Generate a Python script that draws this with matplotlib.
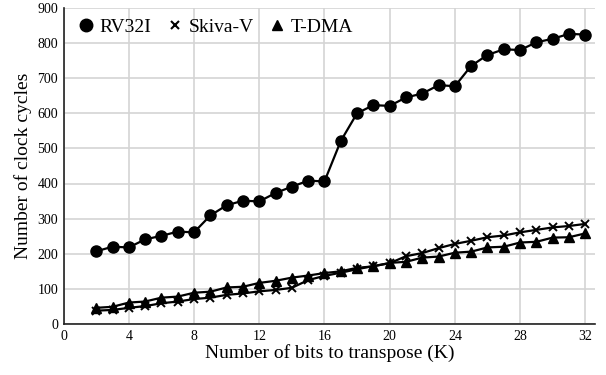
import matplotlib
matplotlib.use("Agg")
import matplotlib.pyplot as plt
from matplotlib.lines import Line2D

plt.rcParams['font.family'] = ['Liberation Serif', 'DejaVu Serif']

bits = list(range(2, 33))
rv32i = [207, 220, 218, 241, 251, 263, 261, 309, 338, 351, 349, 373, 391, 408, 406,
         521, 600, 623, 621, 645, 656, 680, 677, 735, 766, 782, 780, 802, 812, 826, 824]
skiva = [38, 40, 46, 51, 59, 64, 71, 75, 83, 87, 93, 97, 103, 125, 137,
         146, 156, 165, 173, 193, 202, 216, 228, 237, 247, 252, 261, 268, 275, 279, 285]
tdma = [46, 49, 61, 64, 75, 78, 89, 92, 104, 106, 117, 123, 132, 138, 145,
        150, 160, 164, 174, 177, 189, 192, 203, 206, 218, 220, 232, 234, 246, 247, 258]

fig = plt.figure(figsize=(6.06, 3.75), dpi=100)
ax = fig.add_axes([0.105, 0.136, 0.877, 0.843])

ax.plot(bits, rv32i, color='black', lw=1.6, marker='o', ms=8)
ax.plot(bits, skiva, color='black', lw=1.6, marker='x', ms=6, mew=1.4)
ax.plot(bits, tdma, color='black', lw=1.6, marker='^', ms=7)

ax.set_xlim(0, 32.6)
ax.set_ylim(0, 900)
ax.set_xticks(range(0, 33, 4))
ax.set_yticks(range(0, 901, 100))
ax.grid(True, color='#d4d4d4', lw=1.2)
ax.set_axisbelow(True)
ax.tick_params(length=0, labelsize=10, pad=4)
for s in ['top', 'right']:
    ax.spines[s].set_visible(False)
for s in ['left', 'bottom']:
    ax.spines[s].set_color('#222222')
    ax.spines[s].set_linewidth(1.2)

ax.set_xlabel("Number of bits to transpose (K)", fontsize=14, labelpad=1)
ax.set_ylabel("Number of clock cycles", fontsize=14, labelpad=4)

handles = [
    Line2D([], [], color='black', ls='none', marker='o', ms=9),
    Line2D([], [], color='black', ls='none', marker='x', ms=6, mew=1.5),
    Line2D([], [], color='black', ls='none', marker='^', ms=7),
]
ax.legend(handles, ['RV32I', 'Skiva-V', 'T-DMA'], loc='upper left', ncol=3,
          frameon=False, fontsize=14, handlelength=0.9, handletextpad=0.25,
          columnspacing=0.75, borderaxespad=0.3, bbox_to_anchor=(0.0, 1.01))

fig.savefig("out.png", dpi=100)
